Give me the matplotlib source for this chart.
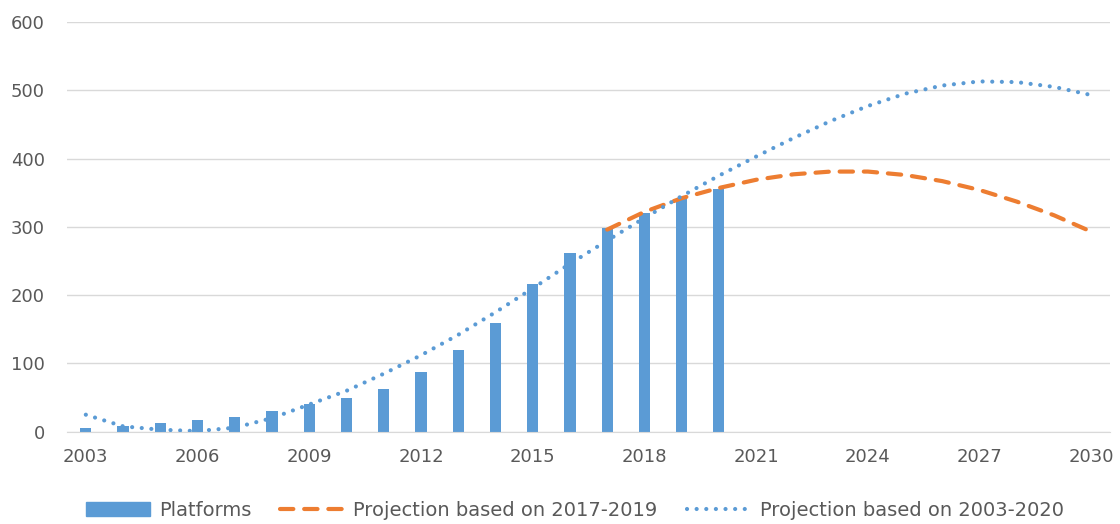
import matplotlib.pyplot as plt
from matplotlib.patches import Patch
from matplotlib.lines import Line2D
import numpy as np

years = list(range(2003, 2031))
platforms = [6, 9, 13, 17, 22, 31, 41, 49, 63, 88, 120, 160, 217, 262,
             298, 320, 342, 356]
proj_1719_years = list(range(2017, 2031))
proj_1719 = [296, 322, 342, 357, 369, 377, 381, 381, 376, 367, 354, 337,
             317, 293]
proj_0320 = [25, 8, 3, 1, 6, 20, 40, 60, 85, 112, 142, 175, 210, 246,
             280, 313, 345, 375, 403, 430, 455, 477, 495, 507, 513, 512,
             505, 493]
xtick_years = [2003, 2006, 2009, 2012, 2015, 2018, 2021, 2024, 2027, 2030]

plt.rcParams['font.family'] = ['DejaVu Sans']
txt = '#595959'
blue = '#5b9bd5'
orange = '#ed7d31'
dash_o = (0, (3.2, 2.6))
dot_b = (0, (0.01, 2.3))

fig = plt.figure(figsize=(11.2, 5.24), dpi=100)
ax = fig.add_axes([0.06, 0.176, 0.931, 0.782])

idx = {y: i for i, y in enumerate(years)}
x_bar = [idx[y] for y in years[:len(platforms)]]
ax.bar(x_bar, platforms, width=0.3, color=blue, zorder=2)
ax.plot([idx[y] for y in proj_1719_years], proj_1719, color=orange, lw=3,
        linestyle=dash_o, dash_capstyle='round', zorder=3)
ax.plot(range(len(years)), proj_0320, color=blue, lw=3,
        linestyle=dot_b, dash_capstyle='round', zorder=3)

ax.set_xlim(-0.5, len(years) - 0.5)
ax.set_ylim(0, 600)
ax.set_yticks(range(0, 601, 100))
ax.set_xticks([idx[y] for y in xtick_years])
ax.set_xticklabels([str(y) for y in xtick_years])
ax.grid(axis='y', color='#d9d9d9', lw=1, zorder=0)
ax.set_axisbelow(True)
for s in ['top', 'right', 'left']:
    ax.spines[s].set_visible(False)
ax.spines['bottom'].set_color('#d9d9d9')
ax.tick_params(length=0, labelsize=13, colors=txt, pad=12)
ax.tick_params(axis='y', pad=16)

handles = [Patch(color=blue),
           Line2D([], [], color=orange, lw=3, linestyle=dash_o,
                  dash_capstyle='round'),
           Line2D([], [], color=blue, lw=3, linestyle=dot_b,
                  dash_capstyle='round')]
labels = ['Platforms', 'Projection based on 2017-2019',
          'Projection based on 2003-2020']
leg = fig.legend(handles, labels, loc='lower left', bbox_to_anchor=(0.061, -0.026),
                 ncol=3, frameon=False, fontsize=14, handlelength=3.3,
                 handleheight=0.75, columnspacing=1.5, handletextpad=0.45)
for t in leg.get_texts():
    t.set_color(txt)

fig.savefig('out.png', dpi=100)
